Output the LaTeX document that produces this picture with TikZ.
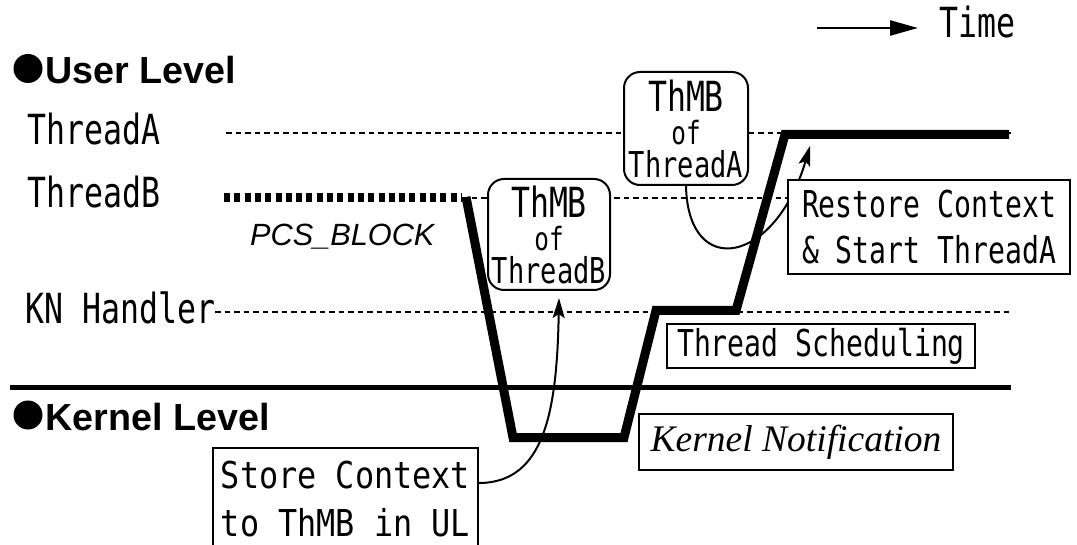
\documentclass[tikz,border=0pt]{standalone}
\usepackage{fontspec}
\usetikzlibrary{arrows.meta}
\newfontfamily\gothic{DejaVu Sans Mono}[FakeStretch=0.76]
\newfontfamily\gothicw{DejaVu Sans Mono}[FakeStretch=0.86]
\newfontfamily\arialf{Liberation Sans}
\newfontfamily\seriff{Liberation Serif}
\begin{document}
\begin{tikzpicture}[x=1pt,y=-1pt,
  lbl/.style={font=\gothic\fontsize{41.5pt}{42pt}\selectfont, inner sep=0pt, anchor=base west},
  lvl/.style={font=\arialf\bfseries\fontsize{37.7pt}{40pt}\selectfont, inner sep=0pt, anchor=base west},
  bulletmark/.style={circle, fill=black, inner sep=0pt, minimum size=29pt},
  guideline/.style={line width=1.3pt, dash pattern=on 5.5pt off 4pt},
  rbox/.style={draw, line width=2pt, rounded corners=16pt, fill=white, inner sep=0pt, align=center},
  sbox/.style={draw, line width=1.5pt, fill=white, inner sep=0pt, align=center},
  conn/.style={line width=2pt, -{Stealth[length=20pt,width=12pt,inset=4pt]}},
]
\path[use as bounding box] (0,0) rectangle (1077,545);
\clip (0,0) rectangle (1077,545);

% time arrow
\coordinate (t0) at (817,28);
\coordinate (t1) at (918,28);
\node[lbl] (time) at (939,38) {Time};
\draw[line width=2.5pt, -{Triangle[length=28pt,width=15pt]}] (t0) -- (t1);

% level headings
\node[bulletmark] (ubul) at (28,68.5) {};
\node[lvl] (user) at (45.5,84) {User Level};
\node[bulletmark] (kbul) at (28,415) {};
\node[lvl] (kern) at (45.5,430) {Kernel Level};

% thread labels
\node[lbl] (ta) at (27,145) {ThreadA};
\node[lbl] (tb) at (27,208) {ThreadB};
\node[lbl] (kn) at (25,324) {KN Handler};

% guide lines
\coordinate (ga0) at (226,133);  \coordinate (ga1) at (1011,133);
\coordinate (gb0) at (462,198);  \coordinate (gb1) at (1011,198);
\coordinate (gk0) at (215,312);  \coordinate (gk1) at (1011,312);
\draw[guideline] (ga0) -- (ga1);
\draw[guideline] (gb0) -- (gb1);
\draw[guideline] (gk0) -- (gk1);

% kernel boundary
\coordinate (kl0) at (10,388); \coordinate (kl1) at (1011,388);
\draw[line width=5pt] (kl0) -- (kl1);

% PCS_BLOCK dotted
\coordinate (d0) at (224,198); \coordinate (d1) at (462,198);
\draw[line width=9pt, dash pattern=on 6pt off 4.3pt] (d0) -- (d1);
\node[font=\arialf\itshape\fontsize{30.7pt}{32pt}\selectfont, inner sep=0pt, anchor=base west] (pcs) at (250,246) {PCS\_BLOCK};

% connector end points
\coordinate (rtip) at (810,146);
\coordinate (stip) at (559,298);
\coordinate (s0) at (0,483);

% execution path
\coordinate (p0) at (466,197);
\coordinate (p1) at (513,437.5);
\coordinate (p2) at (624,437.5);
\coordinate (p3) at (656,310.5);
\coordinate (p4) at (736,310.5);
\coordinate (p5) at (785,134.5);
\coordinate (p6) at (1009,134.5);

% boxes
\node[rbox, minimum width=122pt, minimum height=111pt, font=\gothic\fontsize{35.6pt}{33pt}\selectfont] (thmbB) at (549,234.5)
  {{\fontsize{41.5pt}{33pt}\selectfont ThMB}\\{\fontsize{32pt}{33pt}\selectfont of}\\{\fontsize{35.6pt}{33pt}\selectfont ThreadB}};
\node[rbox, minimum width=124pt, minimum height=113pt, font=\gothic\fontsize{35.6pt}{33pt}\selectfont] (thmbA) at (686,128.5)
  {{\fontsize{41.5pt}{33pt}\selectfont ThMB}\\{\fontsize{32pt}{33pt}\selectfont of}\\{\fontsize{35.6pt}{33pt}\selectfont ThreadA}};

\draw[conn] (thmbA.south) .. controls (688,280) and (775,265) .. (rtip);
\draw[line width=9pt] (p0) -- (p1) -- (p2) -- (p3) -- (p4) -- (p5) -- (p6);

\node[sbox, minimum width=282pt, minimum height=94pt, font=\gothic\fontsize{37pt}{46pt}\selectfont] (restore) at (929,227)
  {Restore Context\\\& Start ThreadA};
\node[sbox, minimum width=265pt, minimum height=102pt, font=\gothicw\fontsize{37pt}{48pt}\selectfont] (store) at (345.5,499)
  {Store Context\\to ThMB in UL};
\node[sbox, minimum width=308pt, minimum height=44pt, font=\gothic\fontsize{37pt}{40pt}\selectfont] (sched) at (821,346)
  {Thread Scheduling};
\node[sbox, minimum width=314pt, minimum height=56pt, font=\seriff\itshape\fontsize{37.5pt}{40pt}\selectfont] (knote) at (796,442)
  {Kernel Notification};

\draw[conn] (store.east |- s0) .. controls (545,483) and (557,410) .. (stip);
\end{tikzpicture}
\end{document}
